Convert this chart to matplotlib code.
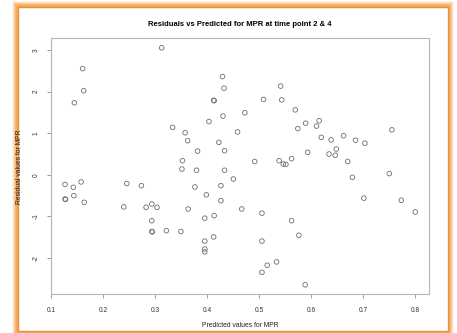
import matplotlib
matplotlib.use("Agg")
import matplotlib.pyplot as plt
from matplotlib.patches import Rectangle

# predicted values (x) and residuals (y)
predicted = [0.312, 0.160, 0.162, 0.144, 0.429, 0.432, 0.412, 0.413, 0.430, 0.403,
             0.333, 0.357, 0.362, 0.422, 0.381, 0.433, 0.352, 0.351, 0.379, 0.433,
             0.541, 0.508, 0.543, 0.472, 0.569, 0.458, 0.574, 0.589, 0.615, 0.610,
             0.619, 0.638, 0.662, 0.685, 0.703, 0.755, 0.593, 0.634, 0.648, 0.646,
             0.670, 0.491, 0.538, 0.546, 0.551, 0.562, 0.679, 0.750, 0.701, 0.773,
             0.800, 0.450, 0.376, 0.426, 0.398, 0.426, 0.363, 0.466, 0.505, 0.413,
             0.395, 0.562, 0.349, 0.412, 0.576, 0.395, 0.505, 0.395, 0.395, 0.533,
             0.515, 0.505, 0.588, 0.126, 0.142, 0.157, 0.143, 0.126, 0.127, 0.163,
             0.245, 0.273, 0.239, 0.282, 0.293, 0.303, 0.293, 0.293, 0.294, 0.321]
residuals = [3.05, 2.55, 2.02, 1.73, 2.36, 2.08, 1.79, 1.78, 1.41, 1.28,
             1.14, 1.01, 0.82, 0.78, 0.57, 0.58, 0.34, 0.14, 0.11, 0.11,
             2.13, 1.81, 1.80, 1.49, 1.56, 1.03, 1.11, 1.24, 1.30, 1.17,
             0.90, 0.84, 0.94, 0.83, 0.76, 1.08, 0.54, 0.50, 0.62, 0.47,
             0.32, 0.32, 0.34, 0.26, 0.25, 0.39, -0.06, 0.03, -0.56, -0.61,
             -0.89, -0.10, -0.29, -0.26, -0.48, -0.62, -0.82, -0.82, -0.92, -0.98,
             -1.04, -1.10, -1.36, -1.49, -1.45, -1.59, -1.59, -1.78, -1.85, -2.09,
             -2.17, -2.34, -2.64, -0.23, -0.30, -0.17, -0.50, -0.58, -0.59, -0.66,
             -0.21, -0.26, -0.77, -0.78, -0.70, -0.78, -1.10, -1.36, -1.37, -1.34]

xticks = [0.1, 0.2, 0.3, 0.4, 0.5, 0.6, 0.7, 0.8]
yticks = [-2, -1, 0, 1, 2, 3]

plt.rcParams['font.family'] = ['Liberation Sans', 'DejaVu Sans']

fig = plt.figure(figsize=(4.57, 3.33), dpi=100)
fig.patch.set_facecolor('white')

# orange glow frame around the white panel
pl, pb, pr, pt = 18 / 457, 2 / 333, 448 / 457, 326 / 333
for i, a in enumerate([0.12, 0.22, 0.34, 0.48, 0.62]):
    g = (6 - i) / 457
    gv = (6 - i) / 333
    fig.patches.append(Rectangle((pl - g, pb - gv), pr - pl + 2 * g, pt - pb + 2 * gv,
                                 transform=fig.transFigure, facecolor='#f6a34c',
                                 edgecolor='none', alpha=a, zorder=0))
fig.patches.append(Rectangle((pl, pb), pr - pl, pt - pb, transform=fig.transFigure,
                             facecolor='white', edgecolor='#e9913c', linewidth=1.0,
                             zorder=1))

ax = fig.add_axes([51 / 457, 1 - 294.3 / 333, 378.3 / 457, 256 / 333])
ax.set_zorder(2)
ax.scatter(predicted, residuals, s=11, facecolors='none', edgecolors='#6e6e6e',
           linewidths=0.6)
ax.margins(0.04)

ax.set_xticks(xticks)
ax.set_xticklabels([str(v) for v in xticks])
ax.set_yticks(yticks)
ax.set_yticklabels([str(v) for v in yticks], rotation=90, va='center')

for s in ax.spines.values():
    s.set_color('#b5b5b5')
    s.set_linewidth(0.8)
ax.tick_params(axis='both', colors='#9a9a9a', labelcolor='#333333', length=3,
               width=0.7, labelsize=4.8)
ax.tick_params(axis='x', pad=6)
ax.tick_params(axis='y', pad=5)

ax.set_title('Residuals vs Predicted for MPR at time point 2 & 4',
             fontsize=5.5, fontweight='bold', pad=9)
ax.set_xlabel('Predicted values for MPR', fontsize=4.9, color='#222222', labelpad=6)
ax.set_ylabel('Residual values for MPR', fontsize=4.9, color='#222222', labelpad=7)

fig.savefig('out.png', dpi=100)
